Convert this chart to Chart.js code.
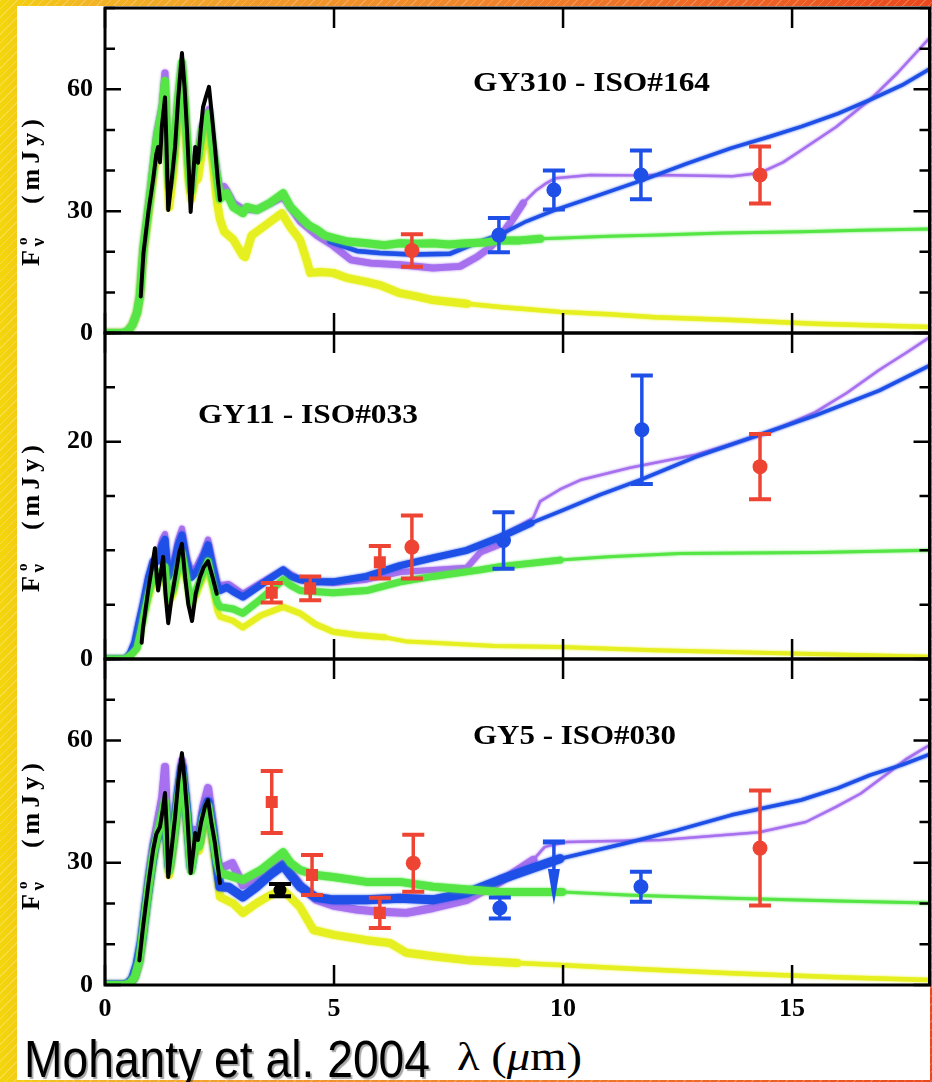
<!DOCTYPE html>
<html>
<head>
<meta charset="utf-8">
<script src="https://cdn.jsdelivr.net/npm/chart.js@4.4.1/dist/chart.umd.min.js"></script>
<style>
html,body{margin:0;padding:0}
body{position:relative;width:932px;height:1082px;overflow:hidden;
background:repeating-linear-gradient(135deg,rgba(255,255,255,.22) 0 1px,rgba(255,255,255,0) 1px 6px),
linear-gradient(90deg,#f4d60c 0,#f3cd12 16px,#f2b424 90px,#f19a2a 260px,#f0822a 500px,#ed6424 740px,#ea481c 932px);}
#paper{position:absolute;left:17px;top:6px;width:913px;height:1074px;background:#fff}
canvas{position:absolute;left:17px}
.ann{position:absolute;white-space:nowrap;color:#000;line-height:1;transform-origin:0 0}
.ttl{font:bold 28px 'Liberation Serif',serif}
.yt{font:bold 26px 'Liberation Serif',serif;letter-spacing:5px;transform:rotate(-90deg)}
.yt .sup{display:inline-block;font-size:15px;position:relative;top:-12px;letter-spacing:0}
.yt .sub{display:inline-block;font-size:19px;position:relative;top:5px;margin-left:-9px;letter-spacing:0}
.yt .gap{display:inline-block;width:34px}
#credit{font:51px 'Liberation Sans','Arial',sans-serif;text-shadow:2px 2px 1px rgba(0,0,0,.35)}
#xt{font:40px 'Liberation Serif',serif}
#xt i{font-style:italic}
</style>
</head>
<body>
<div id="paper"></div>
<canvas id="c1" width="915" height="385" style="top:-22px"></canvas>
<canvas id="c2" width="915" height="386" style="top:303px"></canvas>
<canvas id="c3" width="915" height="401" style="top:629px"></canvas>

<div class="ann ttl" id="t1" style="left:473px;top:66px">GY310 - ISO#164</div>
<div class="ann ttl" id="t2" style="left:198px;top:398px">GY11 - ISO#033</div>
<div class="ann ttl" id="t3" style="left:473px;top:719px">GY5 - ISO#030</div>

<div class="ann yt" style="left:16px;top:266px">F<span class="sup">o</span><span class="sub">ν</span><span class="gap"></span>(mJy)</div>
<div class="ann yt" style="left:16px;top:592px">F<span class="sup">o</span><span class="sub">ν</span><span class="gap"></span>(mJy)</div>
<div class="ann yt" style="left:16px;top:910px">F<span class="sup">o</span><span class="sub">ν</span><span class="gap"></span>(mJy)</div>

<div class="ann" id="credit" style="left:24px;top:1030px">Mohanty et al. 2004</div>
<div class="ann" id="xt" style="left:457px;top:1033px">λ (<i>μ</i>m)</div>

<script>
// ---------------- DATA ----------------
const xTicks = [0, 5, 10, 15];
const p1YLabels = [0, 30, 60];
const p2YLabels = [0, 20];
const p3YLabels = [0, 30, 60];

// Panel 1 : GY310 - ISO#164
const p1Black = [[0.78,9],[0.84,19.7],[0.95,30],[1.05,37.7],[1.12,44],[1.16,45.8],[1.2,42],[1.24,50.7],[1.31,58],[1.34,47],[1.38,30.3],[1.45,37],[1.53,45.8],[1.6,58],[1.68,68.9],[1.74,60],[1.79,50],[1.84,38],[1.87,29.8],[1.92,38],[1.97,45.8],[2.03,41.9],[2.09,50],[2.14,55.6],[2.2,58],[2.27,60.6],[2.33,54],[2.4,45.8],[2.46,38],[2.51,32.7]];
const p1Green = [[0,0],[0.4,0],[0.5,0.5],[0.6,2],[0.7,5],[0.76,9],[0.84,21],[0.98,33.5],[1.13,48],[1.25,55],[1.31,62],[1.36,45],[1.4,36],[1.5,44],[1.6,58],[1.68,66.5],[1.75,55],[1.82,42],[1.88,35],[1.95,42],[2.03,43],[2.12,50],[2.27,54],[2.35,46],[2.45,38],[2.51,33],[2.6,34],[2.66,34.4],[2.8,31],[3.01,29.5],[3.1,31],[3.32,30.3],[3.6,32],[3.89,34.4],[4.05,31],[4.26,28.6],[4.45,26.5],[4.63,25.4],[4.8,24],[4.98,23.4],[5.3,22.5],[5.71,22.1],[6.1,21.6],[6.44,22.1],[6.8,22],[7.16,22.1],[7.5,21.8],[7.9,22.1],[8.3,22.3],[8.62,22.8],[9.06,22.8],[9.5,23.2],[10,23.4],[11,23.8],[12.1,24.1],[13.5,24.6],[15.2,24.9],[16.5,25.3],[18,25.6]];
const p1Blue = [[4.9,22.5],[5.5,20.2],[6.0,19.7],[6.7,19.3],[7.53,19.5],[8.08,22.1],[8.69,24.6],[9.2,27.5],[9.83,30.3],[10.8,34],[11.75,37.7],[12.7,41.7],[13.67,45.5],[14.5,48.3],[15.2,50.8],[16,54],[16.7,57.4],[17.4,61],[18,65]];
const p1Purple = [[0,0],[0.4,0],[0.5,0.5],[0.6,2],[0.7,5],[0.76,9],[0.84,21],[0.98,34],[1.13,49],[1.25,56],[1.31,64],[1.36,46],[1.4,37],[1.5,45],[1.6,58],[1.68,66],[1.75,55],[1.82,43],[1.88,36],[1.95,43],[2.03,44],[2.12,51],[2.27,55],[2.35,47],[2.45,39],[2.51,35],[2.6,36],[2.66,35],[2.8,32],[3.01,30.5],[3.32,30.3],[3.89,33.5],[4.26,27.5],[4.63,24],[4.98,21.5],[5.37,18],[5.8,17.2],[6.44,16.8],[7.16,16],[7.75,16.4],[8.12,18.7],[8.4,21],[8.62,23.6],[8.9,28],[9.13,32],[9.4,35],[9.64,36.9],[9.83,38.1],[10.6,38.9],[11.5,38.8],[12.1,38.9],[13.7,38.6],[14.3,39.4],[14.8,42],[15.2,45],[15.96,50.7],[16.7,57.4],[17.3,64],[18,72.6]];
const p1Yellow = [[0,0],[0.4,0],[0.5,0.5],[0.6,2],[0.7,5],[0.76,9],[0.84,20],[0.98,32],[1.13,45],[1.25,52],[1.31,58],[1.36,42],[1.4,31],[1.5,40],[1.6,55],[1.68,64],[1.75,52],[1.82,38],[1.88,33],[1.95,37],[2.03,38],[2.12,45],[2.27,50.7],[2.35,42],[2.45,32],[2.51,28],[2.6,25],[2.8,23],[3.01,19],[3.06,18.7],[3.2,24],[3.5,26.5],[3.86,29.5],[4.05,26],[4.26,22.9],[4.4,18],[4.48,14.8],[4.7,15],[4.98,14.8],[5.3,13.5],[5.71,12.6],[6.0,11.8],[6.44,9.8],[6.8,9],[7.16,8.1],[7.9,7.2],[8.62,6.4],[9.3,5.8],[9.93,5.2],[11,4.6],[12,3.9],[13.7,3.2],[15.5,2.3],[18,1.5]];
const p1RedCircles = [[6.7,20.3,4.0],[14.3,38.9,7.0]];
const p1BlueCircles = [[8.6,24.1,4.2],[9.8,35.2,4.8],[11.7,38.9,6.0]];

// Panel 2 : GY11 - ISO#033
const p2Black = [[0.8,1.5],[0.83,2.9],[0.95,6.5],[1.05,9.1],[1.09,10.2],[1.13,7.5],[1.16,6.3],[1.22,8],[1.27,9.4],[1.32,6],[1.38,3.3],[1.45,5.5],[1.55,8],[1.62,9.8],[1.68,10.6],[1.75,7.5],[1.82,5],[1.9,3.5],[1.98,6],[2.07,7.5],[2.15,8.4],[2.25,9],[2.35,7.5],[2.44,6]];
const p2Green = [[0,0],[0.45,0],[0.6,0.5],[0.7,1],[0.78,2.5],[0.85,4],[0.95,6],[1.05,7.5],[1.15,8],[1.25,7.5],[1.31,8.5],[1.38,5.5],[1.5,6.5],[1.6,8.5],[1.68,9.8],[1.78,7.5],[1.88,5],[2.0,6.5],[2.15,8],[2.25,9],[2.35,7],[2.45,5.2],[2.51,4.8],[2.8,4.6],[3.01,4.2],[3.4,5.5],[3.89,7.3],[4.05,6.8],[4.26,6.3],[4.98,6.1],[5.71,6.3],[6.44,7.1],[7.16,7.6],[8.19,8.2],[8.62,8.5],[9.93,9.1],[11,9.4],[12.55,9.7],[15.5,9.8],[18,10]];
const p2Blue = [[0,0],[0.45,0],[0.55,0.5],[0.65,1.5],[0.75,3.5],[0.83,5],[0.95,7.5],[1.05,9],[1.15,9],[1.25,10.5],[1.31,11],[1.38,7.5],[1.5,8.5],[1.6,10.5],[1.68,11.4],[1.78,9],[1.88,7.5],[2.0,8],[2.15,9.4],[2.25,10.5],[2.35,8.5],[2.45,6.8],[2.51,6.3],[2.66,6.6],[2.8,6.2],[3.01,5.7],[3.32,6.6],[3.6,7.4],[3.89,8.2],[4.05,7.6],[4.26,7.3],[4.6,7.1],[4.98,7.1],[5.71,7.6],[6.44,8.6],[7.16,9.3],[7.9,10],[8.62,11.2],[9.3,12.5],[10,13.7],[10.8,15.1],[11.7,16.5],[12.9,18.6],[14.4,20.8],[15.5,22.4],[16.9,24.7],[18,27]];
const p2Purple = [[0,0],[0.45,0],[0.55,0.5],[0.65,1.5],[0.75,3.5],[0.83,5],[0.95,7.5],[1.05,9],[1.15,9.5],[1.25,11],[1.31,11.5],[1.38,8],[1.5,9],[1.6,11],[1.68,12],[1.78,9.5],[1.88,8],[2.0,8.5],[2.15,9.8],[2.25,11],[2.35,9],[2.45,7],[2.51,6.8],[2.7,6.9],[3.01,6],[3.32,6.8],[3.89,8.2],[4.26,7.3],[4.98,7],[5.71,7.3],[6.44,8],[7.16,8.2],[7.9,8.4],[8.19,9.8],[8.6,10.5],[8.9,11.9],[9.35,13],[9.5,14.5],[9.93,15.6],[10.4,16.5],[11.46,17.6],[12.9,18.8],[14.4,20.7],[15.5,22.7],[16.2,24.5],[16.9,26.6],[17.5,28.2],[18,29.6]];
const p2Yellow = [[0,0],[0.45,0],[0.6,0.5],[0.7,1],[0.78,2.5],[0.85,4],[0.95,5.5],[1.05,7],[1.15,7.5],[1.25,7],[1.31,8],[1.38,5],[1.5,6],[1.6,8],[1.68,9],[1.78,7],[1.88,4.8],[2.0,6],[2.15,7.5],[2.25,8.2],[2.35,6.5],[2.45,4.5],[2.51,3.9],[2.8,3.5],[3.01,2.9],[3.4,4],[3.89,4.8],[4.26,4.2],[4.6,3.2],[4.98,2.5],[5.5,2.2],[6.1,2.0],[6.6,1.6],[7.16,1.5],[8.5,1.2],[9.93,1.1],[12,0.8],[15,0.5],[18,0.2]];
const p2RedSquares = [[3.64,6.1,0.9],[4.48,6.5,1.1],[6.0,8.9,1.5]];
const p2RedCircles = [[6.7,10.3,2.9],[14.3,17.7,3.0]];
const p2BlueCircles = [[8.7,10.9,2.6],[11.72,21.1,5.0]];

// Panel 3 : GY5 - ISO#030
const p3Black = [[0.75,6],[0.83,14.2],[0.95,25],[1.05,33.1],[1.12,37],[1.2,38.8],[1.26,43],[1.31,47.1],[1.35,38],[1.38,26.5],[1.45,33],[1.53,41.2],[1.6,50],[1.68,56.9],[1.74,50],[1.79,42.9],[1.84,33],[1.87,27.5],[1.93,33],[1.97,37.3],[2.03,35.6],[2.1,40],[2.18,43.7],[2.25,45.4],[2.32,40],[2.4,34.8],[2.51,25]];
const p3Green = [[0,0],[0.45,0],[0.55,0.5],[0.65,2],[0.75,6],[0.83,13],[0.95,24],[1.05,32],[1.15,37],[1.25,42],[1.31,45],[1.36,36],[1.4,28],[1.5,36],[1.6,46],[1.68,52],[1.78,42],[1.88,28],[1.97,35],[2.05,34],[2.15,41],[2.25,44],[2.35,37],[2.45,30],[2.51,27.5],[3.01,25.8],[3.4,28.2],[3.89,32.6],[4.05,30],[4.26,28.2],[4.6,27],[4.98,26.5],[5.71,25.3],[6.44,25.3],[7.16,24.1],[8.62,22.8],[9.98,22.8],[11.5,22],[13.67,21.3],[16,20.6],[18,20.1]];
const p3Blue = [[0,0],[0.4,0],[0.5,0.3],[0.6,1.5],[0.7,5],[0.8,11],[0.9,20],[1.0,28],[1.1,35],[1.2,38],[1.31,44],[1.36,35],[1.4,29],[1.5,37],[1.6,47],[1.68,53.5],[1.78,43],[1.88,29],[1.97,36],[2.05,35],[2.15,42],[2.25,45],[2.35,38],[2.45,29],[2.51,24.1],[2.7,24],[3.01,21.6],[3.3,24],[3.6,27],[3.89,29.4],[4.05,27],[4.26,24.1],[4.6,21.5],[4.98,20.9],[5.71,20.9],[6.44,21.3],[7.16,20.9],[7.9,22.6],[8.62,25.8],[9.3,28.5],[9.93,31],[11.37,34.8],[12.5,38],[13.67,41.7],[15.2,45.4],[16,48.3],[16.7,51.5],[17.4,54],[18,56.6]];
const p3Purple = [[0,0],[0.45,0],[0.55,0.5],[0.65,2],[0.75,6],[0.83,14],[0.95,26],[1.05,34],[1.15,40],[1.25,46],[1.31,53.5],[1.36,38],[1.4,30],[1.5,38],[1.6,48],[1.68,55],[1.78,44],[1.88,31],[1.97,38],[2.05,37],[2.15,44],[2.25,48.3],[2.35,40],[2.45,31],[2.51,28],[2.6,29],[2.78,29.9],[3.01,24.5],[3.1,25],[3.5,27],[3.89,30],[4.1,27],[4.26,24.5],[4.6,21],[4.98,19.5],[5.5,18.5],[6.0,18],[6.58,17.7],[7.16,18.9],[7.9,20.9],[8.62,25.3],[9.35,30.7],[9.6,33.9],[10.07,35.1],[12.14,35.6],[14.28,37.5],[15.3,40],[15.96,43.7],[16.5,47],[17.1,52],[17.5,55.5],[18,58.9]];
const p3Yellow = [[0,0],[0.45,0],[0.55,0.5],[0.65,2],[0.75,6],[0.83,13],[0.95,23],[1.05,31],[1.15,36],[1.25,40],[1.31,43],[1.36,34],[1.4,27],[1.5,35],[1.6,45],[1.68,50],[1.78,40],[1.88,30],[1.97,34],[2.05,33],[2.15,39],[2.25,42],[2.35,35],[2.45,27],[2.51,21.6],[2.8,20],[3.01,17.7],[3.3,20],[3.6,22],[3.89,23.3],[4.05,21.5],[4.26,19.1],[4.55,13.5],[5.0,12.3],[5.71,11],[6.22,10.3],[6.58,7.9],[7.2,7],[7.9,6.1],[9.0,5.4],[9.93,4.9],[11.5,4],[13.67,2.9],[16,1.9],[18,1.2]];
const p3RedSquares = [[3.64,44.9,7.6],[4.52,27.0,4.9],[6.0,17.7,3.7]];
const p3RedCircles = [[6.73,29.9,7.0],[14.3,33.6,14.1]];
const p3BlueCircles = [[8.62,18.9,2.6],[11.7,24.1,3.7]];
const p3BlackPoints = [[3.82,23.3,1.5]];
const p3BlueUpperLimits = [[9.8,35.1]];

// ---------------- STYLE ----------------
const C = {black:'#000000', green:'#55e645', blue:'#1e50e8', purple:'#a670ee', yellow:'#e6f020', red:'#ee4433'};
const tickFont = {family:"'Liberation Serif', serif", size:26, weight:'bold'};
const PLOT_RIGHT = 912;   // right edge of the plot frame, in canvas pixels
const CANVAS_W = 915;
const FUZZ = 2.5;         // soft edge of the noisy model bands

function curve(arr, color, order, thick, thin, thinFrom, fuzz) {
  return {
    type:'line', data: arr.map(([x,y]) => ({x,y})),
    borderColor: color, backgroundColor: color, borderWidth: thick,
    pointRadius: 0, tension: 0, fill: false, order, fuzz: fuzz || 0,
    borderJoinStyle: 'round', borderCapStyle: 'round',
    segment: { borderWidth: c => (arr[c.p0DataIndex][0] >= thinFrom ? thin : thick) }
  };
}
function marks(arr, color, style, radius) {
  return {
    type:'line', showLine:false, data: arr.map(([x,y,e]) => ({x,y,e})),
    borderColor: color, backgroundColor: color,
    pointBackgroundColor: color, pointBorderColor: color, pointBorderWidth: 0,
    pointRadius: radius, pointStyle: style, order: 0, errorBars: true
  };
}
function limits(arr, color) {
  return {
    type:'line', showLine:false, data: arr.map(([x,y]) => ({x,y})),
    borderColor: color, backgroundColor: color, pointRadius: 0, order: 0, upperLimit: true
  };
}

function framePlugin(yLabels) {
  return {
    id: 'frame',
    beforeDatasetDraw(chart, args) {
      const ds = chart.data.datasets[args.index];
      if (ds.fuzz) { chart.ctx.save(); chart.ctx.shadowColor = ds.borderColor; chart.ctx.shadowBlur = ds.fuzz; }
    },
    afterDatasetDraw(chart, args) {
      const ds = chart.data.datasets[args.index];
      if (ds.fuzz) chart.ctx.restore();
    },
    afterDatasetsDraw(chart) {
      const {ctx, scales:{x, y}} = chart;
      chart.data.datasets.forEach(ds => {
        if (ds.errorBars) {
          ctx.save(); ctx.strokeStyle = ds.borderColor; ctx.lineCap = 'butt';
          ds.data.forEach(p => {
            const px = x.getPixelForValue(p.x);
            const lo = y.getPixelForValue(p.y - p.e), hi = y.getPixelForValue(p.y + p.e);
            ctx.lineWidth = 3.5; ctx.beginPath(); ctx.moveTo(px, lo); ctx.lineTo(px, hi); ctx.stroke();
            ctx.lineWidth = 4; ctx.beginPath();
            ctx.moveTo(px - 11, lo); ctx.lineTo(px + 11, lo);
            ctx.moveTo(px - 11, hi); ctx.lineTo(px + 11, hi); ctx.stroke();
          });
          ctx.restore();
        }
        if (ds.upperLimit) {
          ctx.save(); ctx.strokeStyle = ds.borderColor; ctx.fillStyle = ds.borderColor;
          ds.data.forEach(p => {
            const px = x.getPixelForValue(p.x), py = y.getPixelForValue(p.y);
            ctx.lineWidth = 5; ctx.beginPath(); ctx.moveTo(px - 11, py); ctx.lineTo(px + 11, py); ctx.stroke();
            ctx.lineWidth = 3.5; ctx.beginPath(); ctx.moveTo(px, py); ctx.lineTo(px, py + 30); ctx.stroke();
            ctx.beginPath(); ctx.moveTo(px - 6, py + 27); ctx.lineTo(px + 6, py + 27); ctx.lineTo(px, py + 63); ctx.closePath(); ctx.fill();
          });
          ctx.restore();
        }
      });
    },
    afterDraw(chart) {
      const {ctx, chartArea:a, scales:{x, y}} = chart;
      ctx.save(); ctx.strokeStyle = '#000'; ctx.lineCap = 'butt'; ctx.lineWidth = 2.5;
      xTicks.forEach(v => {
        const px = x.getPixelForValue(v);
        ctx.beginPath(); ctx.moveTo(px, a.bottom); ctx.lineTo(px, a.bottom - 20);
        ctx.moveTo(px, a.top); ctx.lineTo(px, a.top + 20); ctx.stroke();
      });
      y.ticks.forEach(t => {
        const py = y.getPixelForValue(t.value);
        const len = yLabels.includes(t.value) ? 16 : 10;
        ctx.beginPath(); ctx.moveTo(a.left, py); ctx.lineTo(a.left + len, py);
        ctx.moveTo(a.right, py); ctx.lineTo(a.right - len, py); ctx.stroke();
      });
      ctx.lineWidth = 3; ctx.strokeRect(a.left, a.top, a.right - a.left, a.bottom - a.top);
      ctx.restore();
    }
  };
}

function config(datasets, yMax, yStep, yLabels, showX) {
  return {
    type: 'line',
    data: { datasets },
    options: {
      responsive: false, maintainAspectRatio: false, animation: false, devicePixelRatio: 1, events: [],
      layout: { padding: { top: 30, bottom: showX ? 0 : 30, left: 0, right: 3 } },
      plugins: { legend: { display: false }, tooltip: { enabled: false } },
      scales: {
        x: { type: 'linear', min: 0, max: 18, display: showX,
             afterBuildTicks: s => { s.ticks = xTicks.map(v => ({ value: v })); },
             ticks: { color: '#000', padding: 9, maxRotation: 0, autoSkip: false, font: tickFont },
             grid: { display: false, drawTicks: false }, border: { display: false },
             afterFit: s => { s.height = showX ? 45 : 0; } },
        y: { type: 'linear', min: 0, max: yMax,
             ticks: { stepSize: yStep, color: '#000', padding: 12, autoSkip: false, font: tickFont,
                      callback: v => yLabels.includes(v) ? String(v) : '' },
             grid: { display: false, drawTicks: false }, border: { display: false },
             afterFit: s => { s.width = 88; } }
      }
    },
    plugins: [framePlugin(yLabels)]
  };
}

function makeChart(id, datasets, yMax, yStep, yLabels, showX) {
  const canvas = document.getElementById(id);
  const h = canvas.height;
  let ch = new Chart(canvas, config(datasets, yMax, yStep, yLabels, showX));
  const diff = Math.round(PLOT_RIGHT - ch.chartArea.right);
  if (diff !== 0) {
    ch.destroy();
    canvas.width = CANVAS_W + diff; canvas.height = h;
    ch = new Chart(canvas, config(datasets, yMax, yStep, yLabels, showX));
  }
  return ch;
}

makeChart('c1', [
  marks(p1RedCircles, C.red, 'circle', 7.5),
  marks(p1BlueCircles, C.blue, 'circle', 7.5),
  curve(p1Black, C.black, 1, 4, 4, 99),
  curve(p1Green, C.green, 2, 8, 3, 9.3, FUZZ),
  curve(p1Blue, C.blue, 3, 4.5, 3.5, 8, FUZZ),
  curve(p1Purple, C.purple, 4, 7, 2.5, 9, FUZZ),
  curve(p1Yellow, C.yellow, 5, 8, 4.5, 7.5, FUZZ)
], 80, 10, p1YLabels, false);

makeChart('c2', [
  marks(p2RedSquares, C.red, 'rect', 8.5),
  marks(p2RedCircles, C.red, 'circle', 7.5),
  marks(p2BlueCircles, C.blue, 'circle', 7.5),
  curve(p2Black, C.black, 1, 4, 4, 99),
  curve(p2Green, C.green, 2, 7, 3, 9, FUZZ),
  curve(p2Blue, C.blue, 3, 7, 3.5, 9, FUZZ),
  curve(p2Purple, C.purple, 4, 6, 2.5, 8.5, FUZZ),
  curve(p2Yellow, C.yellow, 5, 6, 4, 6, FUZZ)
], 30, 5, p2YLabels, false);

makeChart('c3', [
  marks(p3RedSquares, C.red, 'rect', 8.5),
  marks(p3RedCircles, C.red, 'circle', 7.5),
  marks(p3BlueCircles, C.blue, 'circle', 7.5),
  marks(p3BlackPoints, C.black, 'circle', 6.5),
  limits(p3BlueUpperLimits, C.blue),
  curve(p3Black, C.black, 1, 4, 4, 99),
  curve(p3Green, C.green, 2, 8, 3, 9.5, FUZZ),
  curve(p3Blue, C.blue, 3, 9, 3.5, 9.5, FUZZ),
  curve(p3Purple, C.purple, 4, 8, 2.5, 9, FUZZ),
  curve(p3Yellow, C.yellow, 5, 8, 4.5, 8, FUZZ)
], 80, 10, p3YLabels, true);

// fit annotation widths to the reference
function fitTo(id, w) {
  const el = document.getElementById(id);
  const r = el.getBoundingClientRect().width;
  if (r > 0) el.style.transform = 'scaleX(' + (w / r) + ')';
}
fitTo('t1', 237); fitTo('t2', 220); fitTo('t3', 203);
fitTo('credit', 406); fitTo('xt', 125);
</script>
</body>
</html>
